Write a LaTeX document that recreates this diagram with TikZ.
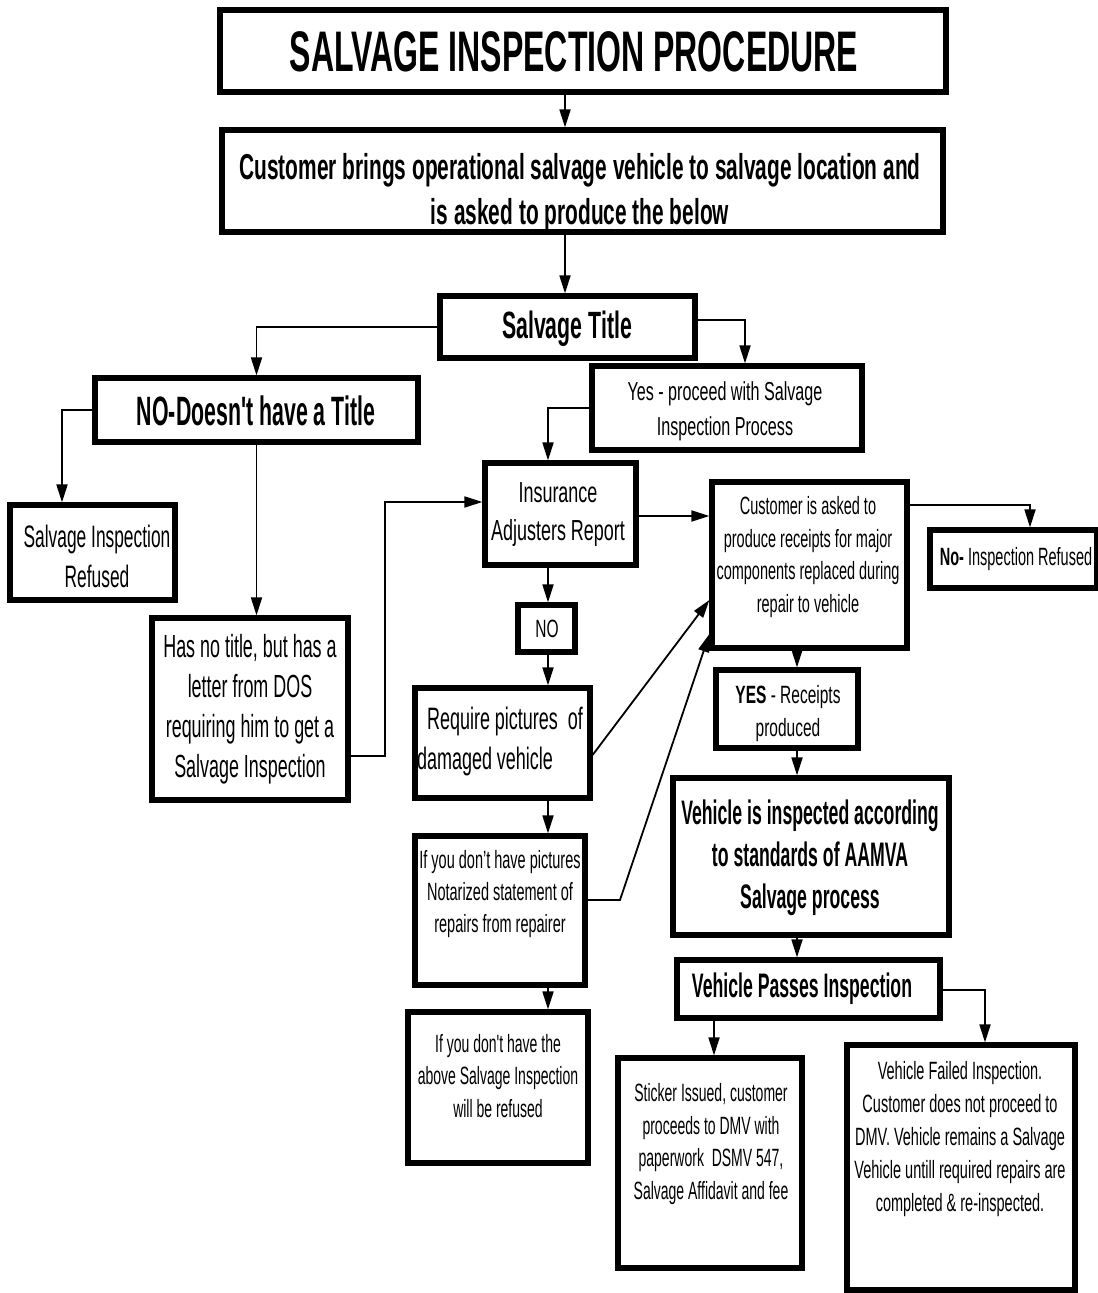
\documentclass[tikz,border=0pt]{standalone}
\usepackage{fontspec}
\setmainfont[FakeStretch=0.58]{Liberation Sans}
\newfontfamily\fsa[FakeStretch=0.52]{Liberation Sans}
\newfontfamily\fsb[FakeStretch=0.56]{Liberation Sans}
\newfontfamily\fsd[FakeStretch=0.62]{Liberation Sans}
\usetikzlibrary{arrows.meta,calc}
\newcommand\fsz[2]{\fontsize{#1}{#2}\selectfont}
\newcommand\mybox[5]{%
  \node[box, minimum width={(#4-#2)*0.5pt}, minimum height={(#5-#3)*0.5pt}] (#1) at ({(#2+#4)/2},{(#3+#5)/2}) {};}
\begin{document}
\begin{tikzpicture}[x=0.5pt,y=-0.5pt,
  box/.style={draw, line width=2.6pt, inner sep=0pt},
  txt/.style={align=center, inner sep=0pt},
  arr/.style={-{Triangle[length=9pt,width=5.5pt]}, line width=0.9pt}]
\useasboundingbox[fill=white] (0,0) rectangle (1097,1293);
% boxes
\mybox{title}{220}{10}{946}{92}
\mybox{cust}{222}{130}{943}{232}
\mybox{stitle}{440}{296}{695}{358}
\mybox{nobox}{95}{378}{418}{442}
\mybox{yes}{592}{366}{862}{450}
\mybox{refused}{10}{505}{175}{600}
\mybox{ins}{485}{463}{636}{565}
\mybox{cask}{712}{482}{907}{648}
\mybox{norf}{930}{530}{1097}{588}
\mybox{nosm}{518}{605}{575}{652}
\mybox{hasno}{152}{618}{348}{800}
\mybox{req}{415}{688}{590}{798}
\mybox{yesr}{716}{670}{858}{748}
\mybox{vinsp}{673}{778}{949}{935}
\mybox{ifpic}{415}{836}{585}{985}
\mybox{vpass}{677}{960}{940}{1018}
\mybox{ifabove}{408}{1012}{588}{1163}
\mybox{sticker}{618}{1058}{802}{1268}
\mybox{vfail}{847}{1045}{1075}{1290}
% texts
\node[txt, font=\fsb\fsz{28.6}{34}\bfseries] (t-title) at (574,52) {SALVAGE INSPECTION PROCEDURE};
\node[txt, font=\fsz{18}{22.5}\bfseries] (t-cust) at (580,193) {Customer brings operational salvage vehicle to salvage location and\\is asked to produce the below};
\node[txt, font=\fsb\fsz{19}{23}\bfseries] (t-stitle) at (567,329) {Salvage Title};
\node[txt, font=\fsa\fsz{20.5}{25}\bfseries] (t-nobox) at (256,411) {NO-Doesn't have a Title};
\node[txt, font=\fsd\fsz{13}{17.5}] (t-yes) at (725,411) {Yes - proceed with Salvage\\Inspection Process};
\node[txt, font=\fsb\fsz{15.5}{20}] (t-refused) at (97,556) {Salvage Inspection\\Refused};
\node[txt, font=\fsd\fsz{14.5}{19}] (t-ins) at (558,515) {Insurance\\Adjusters Report};
\node[txt, font=\fsz{12.5}{16.3}] (t-cask) at (808,557) {Customer is asked to\\produce receipts for major\\components replaced during\\repair to vehicle};
\node[txt, font=\fsz{12.5}{16}] (t-norf) at (1016,559) {\textbf{No-} Inspection Refused};
\node[txt, font=\fsd\fsz{12.5}{16}] (t-nosm) at (547,629) {NO};
\node[txt, font=\fsb\fsz{16}{20}] (t-hasno) at (250,709) {Has no title, but has a\\letter from DOS\\requiring him to get a\\Salvage Inspection};
\node[txt, align=left, font=\fsz{15.5}{20}] (t-req) at (500,741) {\hspace{5pt}Require pictures\ \ of\\damaged vehicle};
\node[txt, font=\fsd\fsz{12.5}{16.5}] (t-yesr) at (788,714) {\textbf{YES} - Receipts\\produced};
\node[txt, font=\fsa\fsz{17}{21}\bfseries] (t-vinsp) at (810,858) {Vehicle is inspected according\\to standards of AAMVA\\Salvage process};
\node[txt, font=\fsz{12.5}{15.8}] (t-ifpic) at (500,894) {If you don't have pictures\\Notarized statement of\\repairs from repairer};
\node[txt, font=\fsa\fsz{17}{21}\bfseries] (t-vpass) at (802,989) {Vehicle Passes Inspection};
\node[txt, font=\fsb\fsz{12.5}{16.3}] (t-ifabove) at (498,1076) {If you don't have the\\above Salvage Inspection\\will be refused};
\node[txt, font=\fsb\fsz{12.5}{16.3}] (t-sticker) at (711,1144) {Sticker Issued, customer\\proceeds to DMV with\\paperwork\ \ DSMV 547,\\Salvage Affidavit and fee};
\node[txt, font=\fsz{12.5}{16.4}] (t-vfail) at (960,1139) {Vehicle Failed Inspection.\\Customer does not proceed to\\DMV. Vehicle remains a Salvage\\Vehicle untill required repairs are\\completed \& re-inspected.};
% helper coordinates
\coordinate (a1) at (565,0);
\coordinate (a2) at (745,320);
\coordinate (a3) at (62,410);
\coordinate (a4) at (548,408);
\coordinate (a5) at (385,756);
\coordinate (a6) at (385,502);
\coordinate (a7) at (0,516);
\coordinate (a8) at (548,0);
\coordinate (a9) at (593,755);
\coordinate (a10) at (712,600);
\coordinate (a11) at (620,900);
\coordinate (a12) at (712,634);
\coordinate (a13) at (1030,505);
\coordinate (a14) at (797,0);
\coordinate (a15) at (714,0);
\coordinate (a16) at (985,990);
% connectors
\draw[arr] (title.south -| a1) -- (cust.north -| a1);
\draw[arr] (cust.south -| a1) -- (stitle.north -| a1);
\draw[arr] (stitle.west) -| (nobox.north);
\draw[arr] (stitle.east |- a2) -| (yes.north -| a2);
\draw[arr] (nobox.west |- a3) -| (refused.north -| a3);
\draw[arr] (nobox.south) -- (nobox.south |- hasno.north);
\draw[arr] (yes.west |- a4) -| (ins.north -| a4);
\draw[arr] (hasno.east |- a5) -- (a5) -- (a6) -- (ins.west |- a6);
\draw[arr] (ins.east |- a7) -- (cask.west |- a7);
\draw[arr] (ins.south -| a8) -- (nosm.north -| a8);
\draw[arr] (nosm.south -| a8) -- (req.north -| a8);
\draw[arr] (req.south -| a8) -- (ifpic.north -| a8);
\draw[arr] (ifpic.south -| a8) -- (ifabove.north -| a8);
\draw[arr] (req.east |- a9) -- (cask.west |- a10);
\draw[arr] (ifpic.east |- a11) -- (a11) -- (cask.west |- a12);
\draw[arr] (cask.east |- a13) -| (norf.north -| a13);
\draw[arr] (cask.south -| a14) -- (yesr.north -| a14);
\draw[arr] (yesr.south -| a14) -- (vinsp.north -| a14);
\draw[arr] (vinsp.south -| a14) -- (vpass.north -| a14);
\draw[arr] (vpass.south -| a15) -- (sticker.north -| a15);
\draw[arr] (vpass.east |- a16) -| (vfail.north -| a16);
\end{tikzpicture}
\end{document}
